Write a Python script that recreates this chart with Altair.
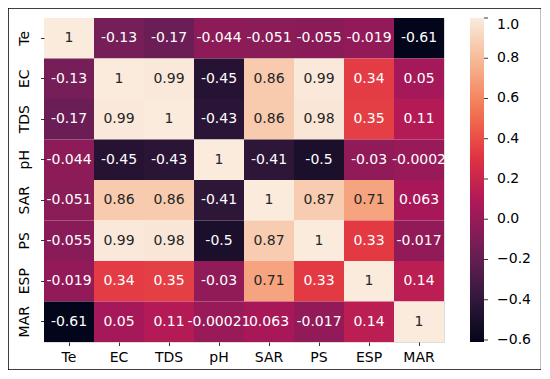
import altair as alt
import pandas as pd

labels = ["Te", "EC", "TDS", "pH", "SAR", "PS", "ESP", "MAR"]
row_Te = [1, -0.13, -0.17, -0.044, -0.051, -0.055, -0.019, -0.61]
row_EC = [-0.13, 1, 0.99, -0.45, 0.86, 0.99, 0.34, 0.05]
row_TDS = [-0.17, 0.99, 1, -0.43, 0.86, 0.98, 0.35, 0.11]
row_pH = [-0.044, -0.45, -0.43, 1, -0.41, -0.5, -0.03, -0.0002]
row_SAR = [-0.051, 0.86, 0.86, -0.41, 1, 0.87, 0.71, 0.063]
row_PS = [-0.055, 0.99, 0.98, -0.5, 0.87, 1, 0.33, -0.017]
row_ESP = [-0.019, 0.34, 0.35, -0.03, 0.71, 0.33, 1, 0.14]
row_MAR = [-0.61, 0.05, 0.11, -0.00021, 0.063, -0.017, 0.14, 1]
matrix = [row_Te, row_EC, row_TDS, row_pH, row_SAR, row_PS, row_ESP, row_MAR]
legend_ticks = [-0.6, -0.4, -0.2, 0.0, 0.2, 0.4, 0.6, 0.8, 1.0]

vmin, vmax = -0.61, 1.0
rocket_t = [0, 1/7, 2/7, 3/7, 4/7, 5/7, 6/7, 1]
rocket_c = ["#03051a", "#35193e", "#701f57", "#ad1759", "#e13342", "#f37651", "#f6b48f", "#faebdd"]
domain = [vmin + t * (vmax - vmin) for t in rocket_t]

records = []
for i, r in enumerate(labels):
    for j, c in enumerate(labels):
        v = matrix[i][j]
        records.append({"row": r, "col": c, "value": v, "label": f"{v:.2g}"})
df = pd.DataFrame(records)

FONT = "DejaVu Sans"
cscale = alt.Scale(domain=domain, range=rocket_c, interpolate="rgb")

base = alt.Chart(df).encode(
    x=alt.X("col:N", sort=labels, title=None,
            scale=alt.Scale(paddingInner=0, paddingOuter=0),
            axis=alt.Axis(orient="bottom", labelAngle=0, labelFontSize=14, labelFont=FONT,
                          labelColor="#000000", tickColor="#000000", tickSize=3.5,
                          tickWidth=0.8, domain=False, labelPadding=5)),
    y=alt.Y("row:N", sort=labels, title=None,
            scale=alt.Scale(paddingInner=0, paddingOuter=0),
            axis=alt.Axis(orient="left", labelAngle=-90, labelFontSize=14, labelFont=FONT,
                          labelColor="#000000", tickColor="#000000", tickSize=3.5,
                          tickWidth=0.8, domain=False, labelPadding=12.5,
                          labelAlign="center", labelBaseline="alphabetic")),
)

rects = base.mark_rect().encode(
    color=alt.Color("value:Q", scale=cscale,
                    legend=alt.Legend(orient="none", legendX=426, legendY=0, direction="vertical",
                                      gradientLength=324, gradientThickness=14,
                                      gradientStrokeWidth=0, values=legend_ticks, format=".1f",
                                      labelFontSize=14, labelFont=FONT, labelColor="#000000",
                                      labelOffset=13, labelBaseline="middle", labelOverlap=False,
                                      title=None)),
)

texts = base.mark_text(fontSize=14, font=FONT, align="center", baseline="middle").encode(
    text="label:N",
    color=alt.condition(alt.datum.value > 0.5, alt.value("#262626"), alt.value("#ffffff")),
)

heat = alt.layer(rects, texts)

cb_ticks = alt.Chart(pd.DataFrame({"v": legend_ticks})).mark_rule(
    color="#000000", strokeWidth=0.8
).encode(
    y=alt.Y("v:Q", scale=alt.Scale(domain=[vmin, vmax], nice=False, zero=False), axis=None),
    x=alt.value(440), x2=alt.value(444),
)

frame = alt.Chart(pd.DataFrame({"a": [0]})).mark_rect(
    fill=None, stroke="#000000", strokeWidth=1.5
).encode(x=alt.value(-36), x2=alt.value(497.5), y=alt.value(-10), y2=alt.value(352))

chart = alt.layer(heat, cb_ticks, frame).resolve_scale(
    y="independent"
).properties(
    width=400, height=324,
    autosize=alt.AutoSizeParams(type="none"),
    padding={"left": 36, "top": 10, "right": 97, "bottom": 28},
).configure_view(stroke=None).configure(background="#ffffff")

chart.save("out.html", embed_options={"renderer": "svg", "actions": False})
